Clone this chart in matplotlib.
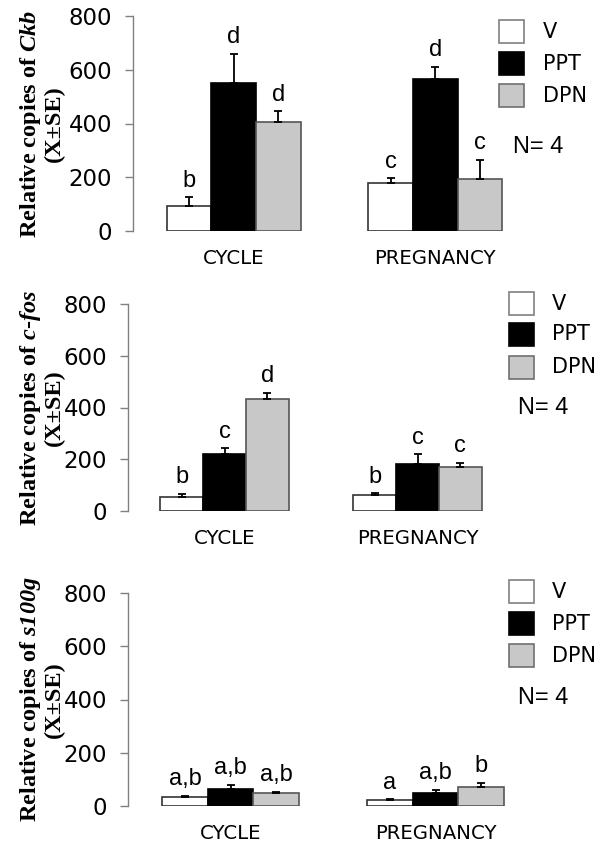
import numpy as np
import matplotlib
matplotlib.use('Agg')
import matplotlib.pyplot as plt
from matplotlib.patches import Rectangle

plt.rcParams['mathtext.fontset'] = 'custom'
plt.rcParams['mathtext.rm'] = 'Liberation Serif:bold'
plt.rcParams['mathtext.bfit'] = 'Liberation Serif:italic:bold'
plt.rcParams['mathtext.it'] = 'Liberation Serif:italic:bold'

groups = ['CYCLE', 'PREGNANCY']
treatments = ['V', 'PPT', 'DPN']

# rows = groups (cycle, pregnancy), cols = treatments (V, PPT, DPN)
ckb_mean = [[93, 551, 405], [178, 566, 194]]
ckb_se = [[33, 108, 41], [19, 45, 71]]
ckb_letters = [['b', 'd', 'd'], ['c', 'd', 'c']]

fos_mean = [[54, 220, 433], [62, 182, 170]]
fos_se = [[12, 23, 23], [6, 38, 16]]
fos_letters = [['b', 'c', 'd'], ['b', 'c', 'c']]

s100g_mean = [[34, 64, 47], [21, 48, 70]]
s100g_se = [[5, 15, 7], [4, 12, 18]]
s100g_letters = [['a,b', 'a,b', 'a,b'], ['a', 'a,b', 'b']]

gene_labels = [r'Relative copies of $\mathbfit{Ckb}$' + '\n(X±SE)',
               r'Relative copies of $\mathbfit{c}$-$\mathbfit{fos}$' + '\n(X±SE)',
               r'Relative copies of $\mathbfit{s100g}$' + '\n(X±SE)']

fills = ['white', 'black', '#c8c8c8']
edges = ['#333333', 'black', '#555555']
box_edges = ['#808080', 'black', '#707070']

W, H = 600, 852
fig = plt.figure(figsize=(6, 8.52), dpi=100)

def px(x, y):
    return x / W, 1 - y / H

# axes rectangles in pixels: left, y of 0, y of 800, right
panels = [
    dict(left=133, y0=231, y800=16, right=536, box_x=499, box_tops=[20, 52, 84], txt_x=543, n_xy=(513, 147)),
    dict(left=128, y0=511, y800=304, right=514, box_x=509, box_tops=[292, 323, 356], txt_x=552, n_xy=(518, 408)),
    dict(left=128, y0=806, y800=593, right=538, box_x=509, box_tops=[580, 612, 644], txt_x=552, n_xy=(518, 698)),
]
all_means = [ckb_mean, fos_mean, s100g_mean]
all_se = [ckb_se, fos_se, s100g_se]
all_letters = [ckb_letters, fos_letters, s100g_letters]

bw = 0.222
for p, means, ses, letters, ylab in zip(panels, all_means, all_se, all_letters, gene_labels):
    l, b = px(p['left'], p['y0'])
    ax = fig.add_axes([l, b, (p['right'] - p['left']) / W, (p['y0'] - p['y800']) / H])
    means = np.array(means)
    ses = np.array(ses)
    x = np.arange(len(groups))
    for j in range(len(treatments)):
        xs = x + (j - 1) * bw
        ax.bar(xs, means[:, j], bw, color=fills[j], edgecolor=edges[j], linewidth=1.2, zorder=2)
        ax.errorbar(xs, means[:, j], yerr=[np.zeros(2), ses[:, j]], fmt='none',
                    ecolor='black', elinewidth=1.3, capsize=3, capthick=1.3, zorder=3)
        for i in range(len(groups)):
            ax.annotate(letters[i][j], (xs[i], means[i, j] + ses[i, j]), xytext=(0, 4),
                        textcoords='offset points', ha='center', va='bottom',
                        fontsize=17, family='Liberation Sans')
    ax.set_xlim(-0.5, 1.5)
    ax.set_ylim(0, 800)
    ax.set_yticks([0, 200, 400, 600, 800])
    ax.set_xticks(x)
    ax.set_xticklabels(groups, fontsize=14.2)
    ax.tick_params(axis='x', length=0, pad=13)
    ax.tick_params(axis='y', labelsize=16.5, length=6, width=1, color='#808080', pad=9)
    for s in ['top', 'right', 'bottom']:
        ax.spines[s].set_visible(False)
    ax.spines['left'].set_color('#808080')
    ax.spines['left'].set_linewidth(1)

    # y label
    yc = (p['y0'] + p['y800']) / 2
    fig.text(41 / W, 1 - yc / H, ylab, rotation=90, ha='center', va='center',
             fontsize=17.5, family='Liberation Serif', fontweight='bold',
             multialignment='center', linespacing=1.05)

    # legend
    for k, t in enumerate(treatments):
        bx, by = px(p['box_x'], p['box_tops'][k] + 23)
        fig.add_artist(Rectangle((bx, by), 25 / W, 23 / H, transform=fig.transFigure,
                                 facecolor=fills[k], edgecolor=box_edges[k], linewidth=1.2))
        tx, ty = px(p['txt_x'], p['box_tops'][k] + 11.5)
        fig.text(tx, ty, t, ha='left', va='center', fontsize=15)
    nx, ny = px(*p['n_xy'])
    fig.text(nx, ny, 'N= 4', ha='left', va='center', fontsize=17, family='Liberation Sans')

fig.savefig('out.png', dpi=100)
